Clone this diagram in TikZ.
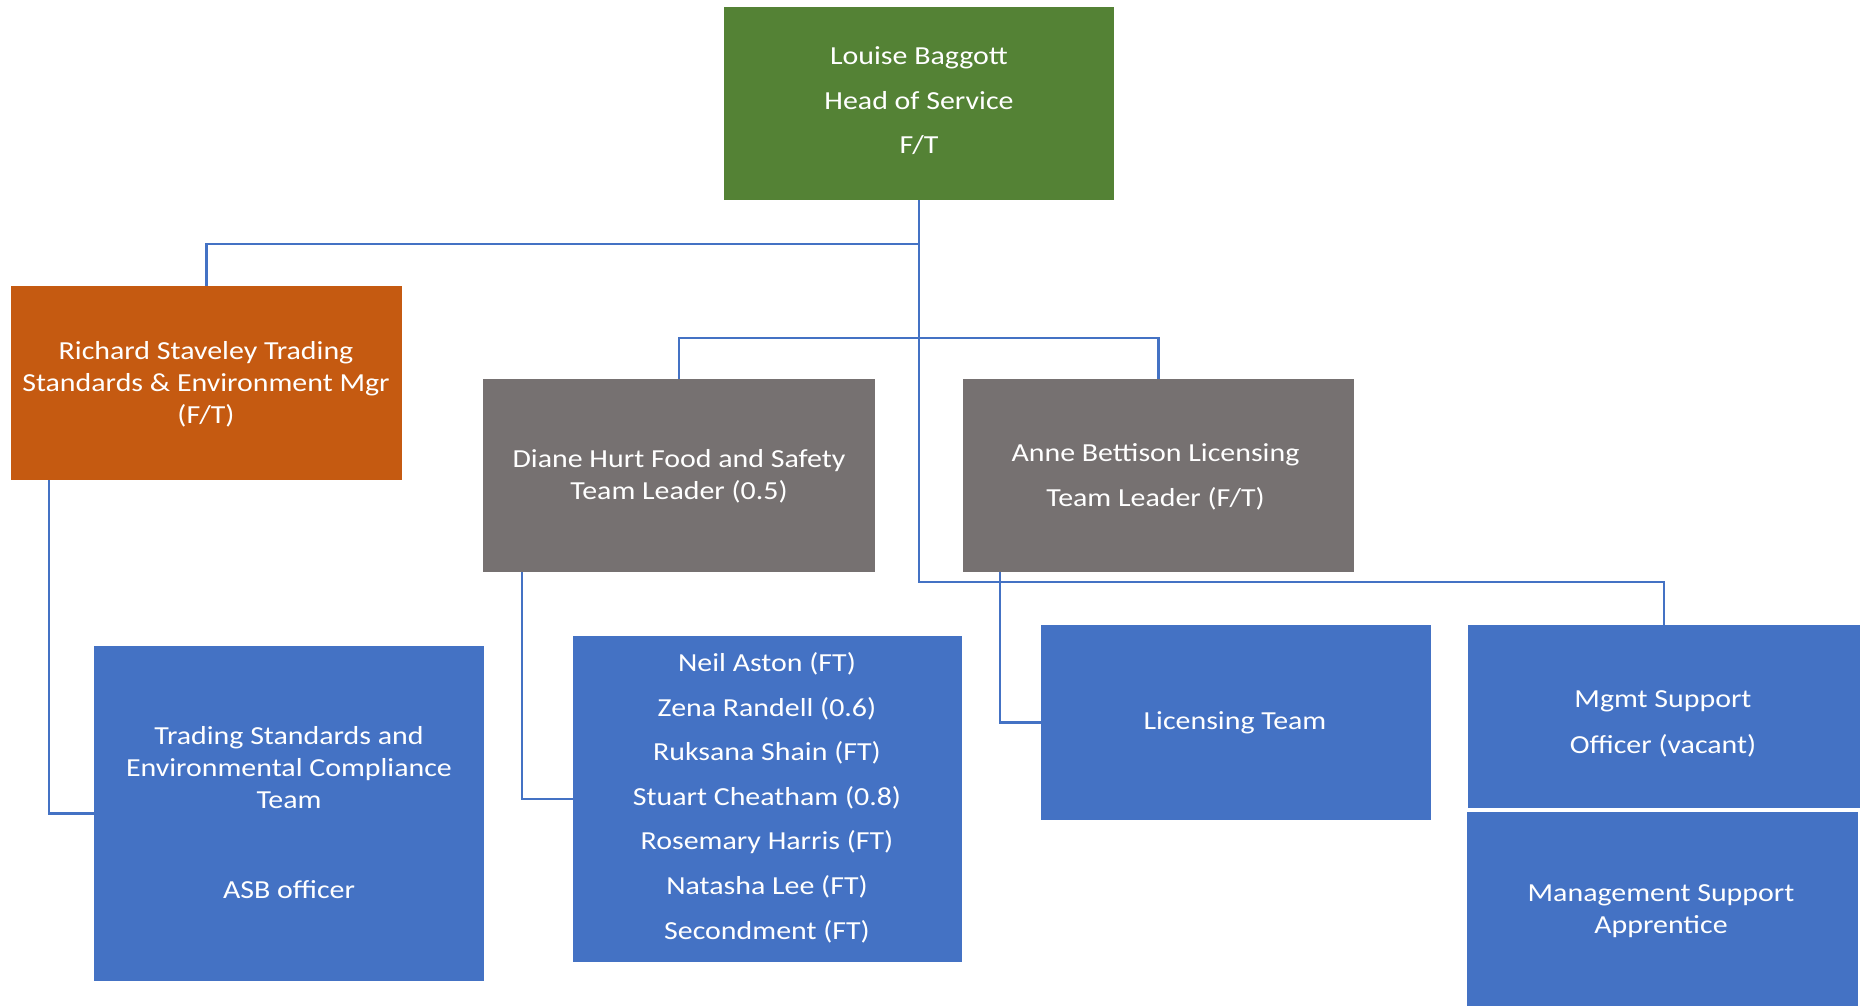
\documentclass[tikz,border=0pt]{standalone}
\usepackage{fontspec}
\setmainfont[FakeStretch=1.15]{Carlito}
\usetikzlibrary{calc}
\definecolor{cgreen}{HTML}{548235}
\definecolor{corange}{HTML}{C55A11}
\definecolor{cgray}{HTML}{767171}
\definecolor{cblue}{HTML}{4472C4}
\definecolor{cline}{HTML}{4472C4}
\tikzset{
  box/.style={rectangle, inner sep=0pt, outer sep=0pt},
  lbl/.style={text=white, align=center, inner sep=0pt, font=\fontsize{26}{32}\selectfont},
  wide/.style={font=\fontsize{26}{44.6}\selectfont},
  conn/.style={draw=cline, line width=2.2pt},
}
\begin{document}
\begin{tikzpicture}[x=1pt,y=-1pt]
\useasboundingbox (0,0) rectangle (1864,1006);
% boxes
\fill[cgreen] (724,7) rectangle (1114,200);
\node[box, minimum width=390pt, minimum height=193pt] (green) at (919,103.5) {};
\fill[corange] (11,286) rectangle (402,480);
\node[box, minimum width=391pt, minimum height=194pt] (orange) at (206.5,383) {};
\fill[cgray] (483,379) rectangle (875,572);
\node[box, minimum width=392pt, minimum height=193pt] (diane) at (679,475.5) {};
\fill[cgray] (963,379) rectangle (1354,572);
\node[box, minimum width=391pt, minimum height=193pt] (anne) at (1158.5,475.5) {};
\fill[cblue] (94,646) rectangle (484,981);
\node[box, minimum width=390pt, minimum height=335pt] (ts) at (289,813.5) {};
\fill[cblue] (573,636) rectangle (962,962);
\node[box, minimum width=389pt, minimum height=326pt] (neil) at (767.5,799) {};
\fill[cblue] (1041,625) rectangle (1431,820);
\node[box, minimum width=390pt, minimum height=195pt] (lic) at (1236,722.5) {};
\fill[cblue] (1468,625) rectangle (1860,808);
\node[box, minimum width=392pt, minimum height=183pt] (mgmt) at (1664,716.5) {};
\fill[cblue] (1467,812) rectangle (1858,1006);
\node[box, minimum width=391pt, minimum height=194pt] (appr) at (1662.5,909) {};
% connectors
\draw[conn] (green.south) -- ++(0,44) -| (orange.north);
\draw[conn] (green.south) |- ($(mgmt.north)+(0,-43)$) -- (mgmt.north);
\draw[conn] (diane.north) -- ++(0,-41) -| (anne.north);
\draw[conn] ([xshift=38pt]orange.south west) |- (ts.west);
\draw[conn] ([xshift=39pt]diane.south west) |- (neil.west);
\draw[conn] ([xshift=37pt]anne.south west) |- (lic.west);
% texts
\node[lbl, wide] (tgreen) at (919,101) {Louise Baggott\\Head of Service\\F/T};
\node[lbl] (torange) at (206,384) {Richard Staveley Trading\\Standards \& Environment Mgr\\(F/T)};
\node[lbl] (tdiane) at (679,476) {Diane Hurt Food and Safety\\Team Leader (0.5)};
\node[lbl, font=\fontsize{26}{45}\selectfont] (tanne) at (1155.5,477) {Anne Bettison Licensing\\Team Leader (F/T)};
\node[lbl] (tts) at (289,812.5) {Trading Standards and\\Environmental Compliance\\Team\\[58pt]ASB officer};
\node[lbl, wide] (tneil) at (767,797.5) {Neil Aston (FT)\\Zena Randell (0.6)\\Ruksana Shain (FT)\\Stuart Cheatham (0.8)\\Rosemary Harris (FT)\\Natasha Lee (FT)\\Secondment (FT)};
\node[lbl] (tlic) at (1235,722.5) {Licensing Team};
\node[lbl, font=\fontsize{26}{46}\selectfont] (tmgmt) at (1663,723.5) {Mgmt Support\\Officer (vacant)};
\node[lbl] (tappr) at (1661,911.5) {Management Support\\Apprentice};
\end{tikzpicture}
\end{document}
